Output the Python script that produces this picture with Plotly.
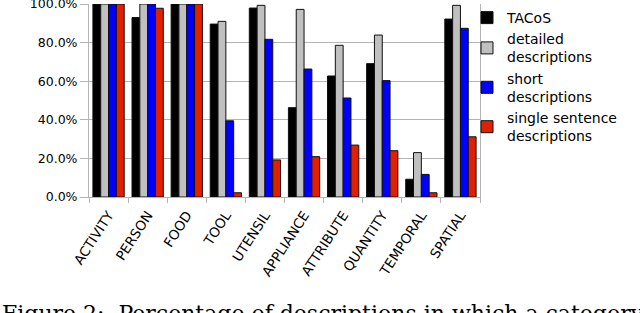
import plotly.graph_objects as go

categories = ["ACTIVITY", "PERSON", "FOOD", "TOOL", "UTENSIL", "APPLIANCE",
              "ATTRIBUTE", "QUANTITY", "TEMPORAL", "SPATIAL"]
tacos = [100, 93.0, 100, 89.6, 97.9, 46.3, 62.7, 69.1, 9.2, 92.2]
detailed = [100, 100, 100, 91.0, 99.3, 97.2, 78.6, 83.9, 23.0, 99.3]
short = [100, 100, 100, 39.5, 81.7, 66.3, 51.3, 60.3, 11.7, 87.4]
single = [100, 97.8, 100, 2.2, 19.2, 20.9, 26.9, 24.0, 2.2, 31.2]

series = [
    ("TACoS", tacos, "#000000"),
    ("detailed<br>descriptions", detailed, "#c0c0c0"),
    ("short<br>descriptions", short, "#0000ff"),
    ("single sentence<br>descriptions", single, "#e02000"),
]

fig = go.Figure()
for name, vals, col in series:
    fig.add_trace(go.Bar(
        x=categories, y=vals, name=name,
        marker=dict(color=col, line=dict(color="#111111", width=1)),
    ))

GRID = "#b4b4b4"
PL, PT, PW, PH = 89, 4, 391, 193
fig.update_layout(
    width=640, height=313,
    margin=dict(l=PL, r=640 - PL - PW, t=PT, b=313 - PT - PH, autoexpand=False),
    paper_bgcolor="white", plot_bgcolor="white",
    barmode="group", bargap=0.2, bargroupgap=0,
    font=dict(family="DejaVu Sans", size=13, color="black"),
    showlegend=True,
    legend=dict(x=(467 - PL) / PW, xanchor="left", y=(PT + PH - 2) / PH, yanchor="top",
                font=dict(family="DejaVu Sans", size=14),
                tracegroupgap=2, bgcolor="rgba(0,0,0,0)"),
    xaxis=dict(tickangle=-57, tickfont=dict(size=13.5), automargin=False,
               ticklabelstandoff=4,
               showline=True, linecolor=GRID, linewidth=1,
               ticks="outside", ticklen=5, tickcolor=GRID,
               tickson="boundaries", showgrid=False),
    yaxis=dict(range=[0, 100], dtick=20, tickformat=".1f", ticksuffix="%",
               tickfont=dict(size=12.5), automargin=False,
               ticklabeloverflow="allow",
               showgrid=True, gridcolor=GRID, gridwidth=1,
               showline=True, mirror=True, linecolor=GRID, linewidth=1,
               ticks="outside", ticklen=8, tickcolor=GRID,
               zeroline=False),
    annotations=[dict(
        text="Figure 2:  Percentage of descriptions in which a category appears",
        xref="paper", yref="paper", x=-PL / PW, y=(PT + PH - 299) / PH,
        xanchor="left", yanchor="top", showarrow=False,
        font=dict(family="DejaVu Serif", size=22, color="black"))],
)

fig.write_html("out.html", config={"displayModeBar": False},
               post_script="document.body.style.margin='0';")
